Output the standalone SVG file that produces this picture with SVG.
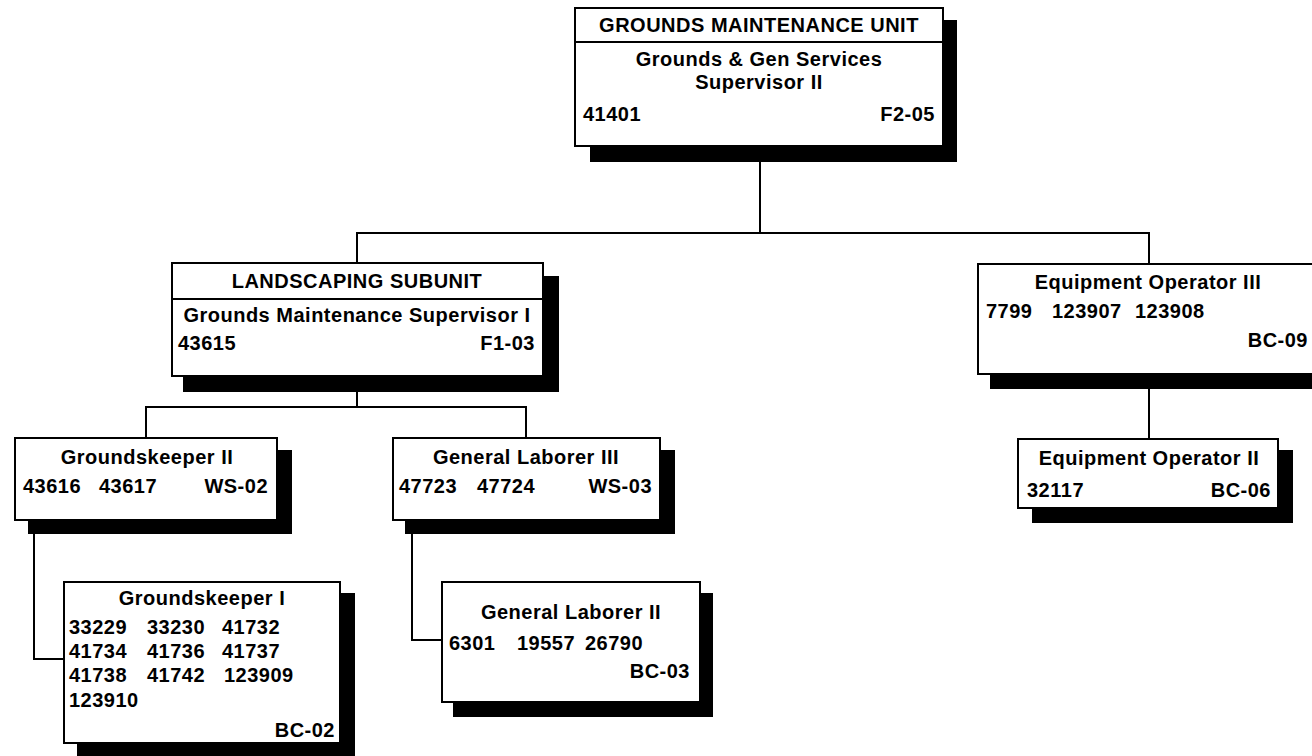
<svg xmlns="http://www.w3.org/2000/svg" width="1312" height="756" viewBox="0 0 1312 756">
<style>
.box{fill:#fff;stroke:#000;stroke-width:2}
.sh{fill:#000}
.ln{fill:none;stroke:#000;stroke-width:2}
text{font-family:"Liberation Sans",Arial,sans-serif;font-weight:bold;font-size:20px;fill:#000;letter-spacing:0.5px}
.c{text-anchor:middle}
.r{text-anchor:end}
</style>
<rect width="1312" height="756" fill="#fff"/>
<g id="connectors">
<polyline class="ln" points="760,146 760,233"/>
<polyline class="ln" points="357,263 357,233 1149,233 1149,264"/>
<polyline class="ln" points="1149,389 1149,439"/>
<polyline class="ln" points="357,392 357,407"/>
<polyline class="ln" points="146,438 146,407 526,407 526,438"/>
<polyline class="ln" points="34,534 34,659 64,659"/>
<polyline class="ln" points="412,534 412,640 442,640"/>
</g>
<g id="n-grounds-unit">
<rect class="sh" x="590" y="20" width="367" height="142"/>
<rect class="box" x="575" y="8" width="368" height="138"/>
<line class="ln" x1="575" y1="42" x2="943" y2="42"/>
<text class="c" x="759" y="32">GROUNDS MAINTENANCE UNIT</text>
<text class="c" x="759" y="66">Grounds &amp; Gen Services</text>
<text class="c" x="759" y="89">Supervisor II</text>
<text x="583" y="121">41401</text>
<text class="r" x="935" y="121">F2-05</text>
</g>
<g id="n-landscaping">
<rect class="sh" x="183" y="276" width="376" height="116"/>
<rect class="box" x="172" y="263" width="371" height="113"/>
<line class="ln" x1="172" y1="299" x2="543" y2="299"/>
<text class="c" x="357" y="288">LANDSCAPING SUBUNIT</text>
<text class="c" x="357" y="322">Grounds Maintenance Supervisor I</text>
<text x="178" y="350">43615</text>
<text class="r" x="535" y="350">F1-03</text>
</g>
<g id="n-equip3">
<rect class="sh" x="990" y="276" width="340" height="113"/>
<rect class="box" x="978" y="264" width="345" height="110"/>
<text class="c" x="1148" y="289">Equipment Operator III</text>
<text x="986" y="318">7799</text>
<text x="1052" y="318">123907</text>
<text x="1135" y="318">123908</text>
<text class="r" x="1308" y="347">BC-09</text>
</g>
<g id="n-equip2">
<rect class="sh" x="1032" y="450" width="261" height="73"/>
<rect class="box" x="1018" y="439" width="260" height="69"/>
<text class="c" x="1149" y="465">Equipment Operator II</text>
<text x="1027" y="497">32117</text>
<text class="r" x="1271" y="497">BC-06</text>
</g>
<g id="n-groundskeeper2">
<rect class="sh" x="28" y="450" width="264" height="84"/>
<rect class="box" x="15" y="438" width="262" height="82"/>
<text class="c" x="147" y="464">Groundskeeper II</text>
<text x="23" y="493">43616</text>
<text x="99" y="493">43617</text>
<text class="r" x="268" y="493">WS-02</text>
</g>
<g id="n-laborer3">
<rect class="sh" x="405" y="450" width="270" height="84"/>
<rect class="box" x="393" y="438" width="267" height="82"/>
<text class="c" x="526" y="464">General Laborer III</text>
<text x="399" y="493">47723</text>
<text x="477" y="493">47724</text>
<text class="r" x="652" y="493">WS-03</text>
</g>
<g id="n-groundskeeper1">
<rect class="sh" x="77" y="593" width="278" height="175"/>
<rect class="box" x="64" y="582" width="276" height="161"/>
<text class="c" x="202" y="605">Groundskeeper I</text>
<text x="69" y="634">33229</text>
<text x="147" y="634">33230</text>
<text x="222" y="634">41732</text>
<text x="69" y="658">41734</text>
<text x="147" y="658">41736</text>
<text x="222" y="658">41737</text>
<text x="69" y="682">41738</text>
<text x="147" y="682">41742</text>
<text x="224" y="682">123909</text>
<text x="69" y="707">123910</text>
<text class="r" x="335" y="737">BC-02</text>
</g>
<g id="n-laborer2">
<rect class="sh" x="453" y="593" width="260" height="124"/>
<rect class="box" x="442" y="582" width="258" height="120"/>
<text class="c" x="571" y="619">General Laborer II</text>
<text x="449" y="650">6301</text>
<text x="517" y="650">19557</text>
<text x="585" y="650">26790</text>
<text class="r" x="690" y="678">BC-03</text>
</g>
</svg>
